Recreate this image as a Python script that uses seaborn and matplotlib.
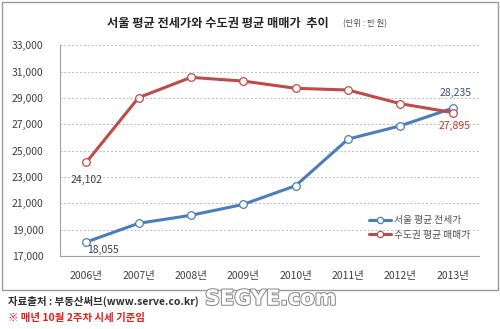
import matplotlib
matplotlib.use("Agg")
import matplotlib.pyplot as plt
import matplotlib.patheffects as pe
from matplotlib.patches import Rectangle
import seaborn as sns
import pandas as pd

years = ["2006년", "2007년", "2008년", "2009년", "2010년", "2011년", "2012년", "2013년"]
seoul_jeonse = [18055, 19480, 20090, 20920, 22340, 25880, 26890, 28235]
capital_sale = [24102, 29030, 30570, 30290, 29740, 29610, 28570, 27895]
series_names = ["서울 평균 전세가", "수도권 평균 매매가"]
y_ticks = [17000, 19000, 21000, 23000, 25000, 27000, 29000, 31000, 33000]

BLUE = "#4A7EBB"
RED = "#BE4B48"

sns.set_theme(style="white")
plt.rcParams["font.family"] = ["Noto Sans CJK KR", "DejaVu Sans"]

df = pd.DataFrame({
    "idx": list(range(len(years))) * 2,
    "value": seoul_jeonse + capital_sale,
    "series": [series_names[0]] * len(years) + [series_names[1]] * len(years),
})

fig = plt.figure(figsize=(5.0, 3.29), dpi=100)
ax = fig.add_axes([0.12, 0.222, 0.838, 0.64])

sns.lineplot(data=df, x="idx", y="value", hue="series",
             palette=[BLUE, RED], linewidth=2.2, marker="o",
             markersize=5.5, markerfacecolor="white", markeredgewidth=0.9,
             ax=ax, legend=False)
# outline the hollow markers in each line's own colour
for line in ax.lines:
    line.set_markeredgecolor(line.get_color())
    line.set_markerfacecolor("white")

ax.set_xlim(-0.5, len(years) - 0.5)
ax.set_ylim(17000, 33000)
ax.set_yticks(y_ticks)
ax.set_yticklabels([f"{v:,}" for v in y_ticks])
ax.set_xticks(range(len(years)))
ax.set_xticklabels(years)
ax.set_xlabel("")
ax.set_ylabel("")
ax.tick_params(axis="both", length=0, labelsize=7.5, labelcolor="#404040")
ax.tick_params(axis="x", pad=11)
ax.tick_params(axis="y", pad=12)
ax.yaxis.grid(True, linestyle=(0, (2, 2)), color="#BDBDBD", linewidth=0.7)
ax.set_axisbelow(True)
for side in ["top", "right"]:
    ax.spines[side].set_visible(False)
for side in ["left", "bottom"]:
    ax.spines[side].set_color("#A0A0A0")
    ax.spines[side].set_linewidth(0.8)

# value labels at the first and last points
ax.annotate(f"{capital_sale[0]:,}", (0, capital_sale[0]), xytext=(0, -9),
            textcoords="offset points", ha="center", va="top",
            fontsize=7.5, color="#404040")
ax.annotate(f"{seoul_jeonse[0]:,}", (0, seoul_jeonse[0]), xytext=(1, -2),
            textcoords="offset points", ha="left", va="top",
            fontsize=7.5, color="#404040")
ax.annotate(f"{seoul_jeonse[-1]:,}", (7, seoul_jeonse[-1]), xytext=(2, 7),
            textcoords="offset points", ha="center", va="bottom",
            fontsize=7.5, color="#3B4F72", fontweight="medium")
ax.annotate(f"{capital_sale[-1]:,}", (7, capital_sale[-1]), xytext=(1, -6),
            textcoords="offset points", ha="center", va="top",
            fontsize=7.5, color="#C0392B", fontweight="medium")

# legend
handles = [plt.Line2D([], [], color=c, linewidth=2.2, marker="o", markersize=4.5,
                      markerfacecolor="white", markeredgecolor=c, markeredgewidth=0.9)
           for c in (BLUE, RED)]
ax.legend(handles, series_names, loc="lower right", bbox_to_anchor=(1.0, 0.035),
          frameon=False, fontsize=7, handlelength=2.3, handletextpad=0.3,
          labelspacing=0.5, labelcolor="#505050")

# outer frame
fig.patches.append(Rectangle((0.004, 0.118), 0.992, 0.876, transform=fig.transFigure,
                             fill=False, edgecolor="#9A9A9A", linewidth=1.0))

fig.text(0.435, 0.928, "서울 평균 전세가와 수도권 평균 매매가  추이", ha="center", va="center",
         fontsize=8.8, fontweight="bold", color="#262626")
fig.text(0.686, 0.928, "(단위 : 만 원)", ha="left", va="center",
         fontsize=6, color="#505050")

fig.text(0.016, 0.085, "자료출처 : 부동산써브(www.serve.co.kr)", ha="left", va="center",
         fontsize=7.5, fontweight="bold", color="#303030")
fig.text(0.016, 0.033, "※ 매년 10월 2주차 시세 기준임", ha="left", va="center",
         fontsize=7.5, fontweight="bold", color="#E0201B")
fig.text(0.41, 0.092, "SEGYE.com", ha="left", va="center", fontsize=15,
         fontweight="bold", color="white", family=["DejaVu Sans"],
         path_effects=[pe.withStroke(linewidth=1.5, foreground="#8A8A8A")])

fig.savefig("out.png", dpi=100)
